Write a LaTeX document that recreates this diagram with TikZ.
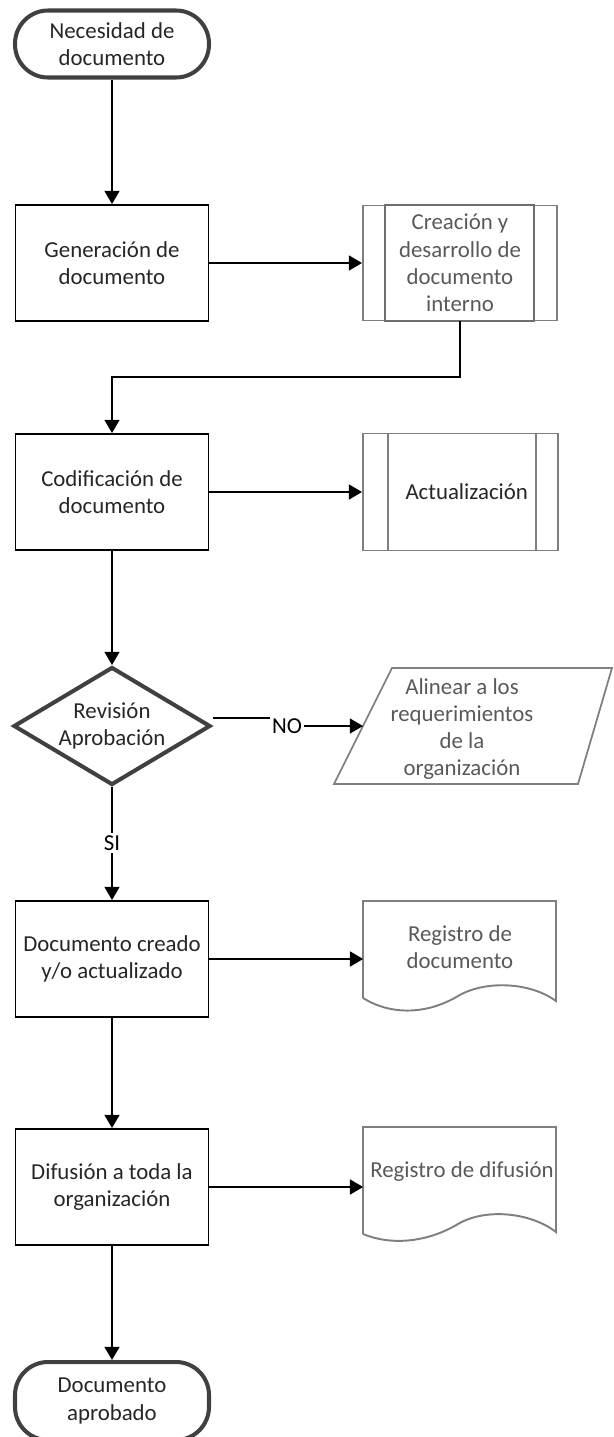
\documentclass[tikz,border=0pt]{standalone}
\usepackage{fontspec}
\setmainfont{Carlito}
\definecolor{darkgrey}{HTML}{404040}
\definecolor{midgrey}{HTML}{7F7F7F}
\definecolor{boxgrey}{HTML}{6E6E6E}
\definecolor{textgrey}{HTML}{595959}
\definecolor{inktext}{HTML}{262626}
\usepackage{tikz}
\usetikzlibrary{arrows.meta}
\usetikzlibrary{shapes.geometric}
\usetikzlibrary{positioning}
\tikzstyle{base}=[x=0.02cm, y=-0.02cm, font=\fontsize{13}{15.5}\selectfont]
\tikzstyle{term}=[draw=darkgrey, line width=2.3pt, rounded corners=0.66cm, align=center, text=inktext, minimum width=3.88cm]
\tikzstyle{procbox}=[draw=black, line width=1.1pt, align=center, text=inktext, minimum width=3.86cm, minimum height=2.32cm]
\tikzstyle{subproc}=[draw=midgrey, line width=1.1pt, align=center, text=textgrey, minimum width=3.88cm, minimum height=2.3cm]
\tikzstyle{decision}=[diamond, draw=darkgrey, line width=2.3pt, aspect=1.8, inner sep=0pt, align=center, text=inktext, minimum width=3.94cm, minimum height=2.36cm]
\tikzstyle{docshape}=[minimum width=3.86cm, minimum height=2.34cm]
\tikzstyle{doctext}=[align=center, text=textgrey]
\tikzstyle{arr}=[line width=1pt, -{Triangle[length=7.5pt,width=8.5pt]}]
\tikzstyle{flow}=[line width=1pt]

\begin{document}
\begin{tikzpicture}[base]
    \useasboundingbox (0,0) rectangle (613,1437);
        % main column
        \node [term, minimum height=1.34cm] (nec) at (112,44) {Necesidad de\\documento};
        \node [procbox] (gen) at (112,263) {Generación de\\documento};
        \node [procbox] (cod) at (112,492) {Codificación de\\documento};
        \node [decision] (dia) at (112,726) {Revisión\\Aprobación};
        \node [text=black, inner sep=1pt] (si) at (112,843) {SI};
        \node [procbox] (cre) at (112,959) {Documento creado\\y/o actualizado};
        \node [procbox] (dif) at (112,1187) {Difusión a toda la\\organización};
        \node [term, minimum height=1.56cm] (apr) at (112,1401) {Documento\\aprobado};
        % right column
        \node [subproc] (crea) at (460,263) {Creación y\\desarrollo de\\documento\\interno};
        \draw [boxgrey, line width=1.1pt] ([xshift=0.46cm]crea.north west) rectangle ([xshift=-0.48cm]crea.south east);
        \node [subproc, minimum width=3.9cm, minimum height=2.34cm, text=inktext] (act) at (460.5,492) {\hspace{0.25cm}Actualización};
        \draw [midgrey, line width=1.1pt] ([xshift=0.52cm]act.north west) -- ([xshift=0.52cm]act.south west);
        \draw [midgrey, line width=1.1pt] ([xshift=-0.46cm]act.north east) -- ([xshift=-0.46cm]act.south east);
        \draw [midgrey, line width=1pt] (334,784) -- (392,668) -- (612,668) -- (578,784) -- cycle;
        \node [doctext] (alin) at (462,729) {Alinear a los\\requerimientos\\de la\\organización};
        \coordinate (alinw) at (363,726);
        \node [docshape] (reg) at (460,959) {};
        \node [doctext] (regt) at (460,947) {Registro de\\documento};
        \draw [midgrey, line width=1.1pt] (363,998) -- (363,901) -- (556,901) -- (556,1001)
            .. controls (530,982) and (485,980) .. (458,996)
            .. controls (428,1014) and (392,1016) .. (363,998);
        \node [docshape, minimum height=2.36cm] (regd) at (460,1187) {};
        \node [doctext] (regdt) at (462,1172) {Registro de difusión};
        \draw [midgrey, line width=1.1pt] (363,1234) -- (363,1127) -- (556,1127) -- (556,1232)
            .. controls (530,1212) and (485,1208) .. (458,1224)
            .. controls (428,1242) and (392,1246) .. (363,1234);
        \node [text=black, inner sep=1pt] (no) at (287,726) {NO};
        \coordinate (noin) at (no.west |- 0,718);
        \coordinate (ret) at (460,377);
        % connectors
        \draw [arr] (nec.south) -- (gen.north);
        \draw [arr] (gen.east) -- (crea.west);
        \draw [arr] (crea.south) -- (ret) -| (cod.north);
        \draw [arr] (cod.east) -- (act.west);
        \draw [arr] (cod.south) -- (dia.north);
        \draw [flow] (dia.east |- noin) -- (noin);
        \draw [arr] (no.east) -- (alinw);
        \draw [flow] (dia.south) -- (si.north);
        \draw [arr] (si.south) -- (cre.north);
        \draw [arr] (cre.east) -- (reg.west);
        \draw [arr] (cre.south) -- (dif.north);
        \draw [arr] (dif.east) -- (regd.west);
        \draw [arr] (dif.south) -- (apr.north);
    \end{tikzpicture}
\end{document}
